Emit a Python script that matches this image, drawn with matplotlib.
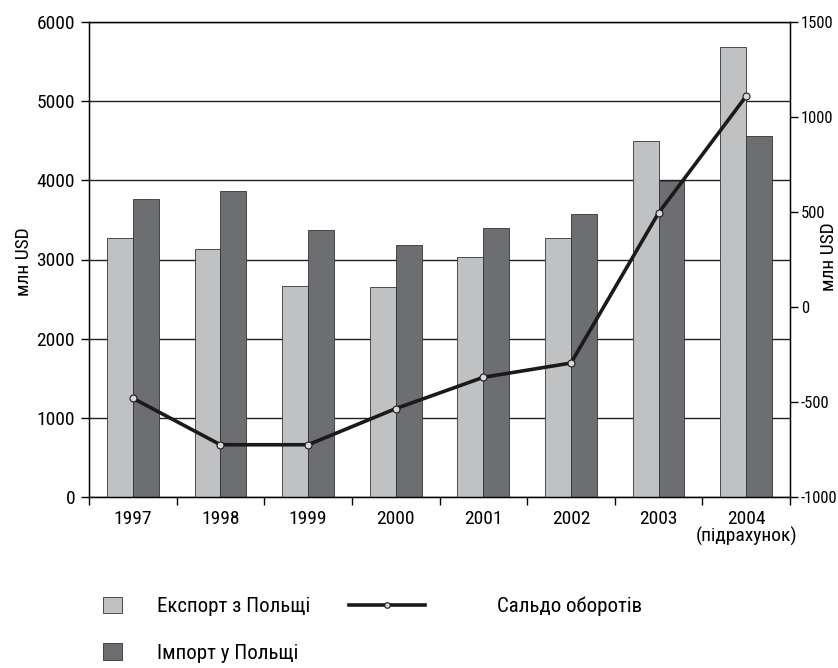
import matplotlib
matplotlib.use("Agg")
import matplotlib.pyplot as plt
import numpy as np
from matplotlib.patches import Patch
from matplotlib.lines import Line2D

plt.rcParams['font.family'] = ['Roboto Condensed', 'PT Sans Narrow', 'Liberation Sans Narrow',
                               'Liberation Sans', 'DejaVu Sans']
plt.rcParams['axes.unicode_minus'] = False

years = ['1997', '1998', '1999', '2000', '2001', '2002', '2003', '2004\n(підрахунок)']
export_pl = [3275, 3136, 2669, 2648, 3027, 3275, 4500, 5680]
import_pl = [3760, 3861, 3377, 3179, 3394, 3575, 3991, 4556]
balance = [-480, -725, -725, -535, -370, -295, 495, 1110]

left_ticks = [0, 1000, 2000, 3000, 4000, 5000, 6000]
right_ticks = [-1000, -500, 0, 500, 1000, 1500]

c_exp = '#c0c1c3'
c_imp = '#6d6e71'
fs = 14
lfs = 15

fig = plt.figure(figsize=(8.38, 6.68), dpi=100)
ax = fig.add_axes([89/838, 1-497/668, (790-89)/838, (497-22)/668])
x = np.arange(len(years))
w = 0.295
ax.bar(x - w/2, export_pl, w, color=c_exp, edgecolor='#333333', linewidth=0.6, zorder=2)
ax.bar(x + w/2, import_pl, w, color=c_imp, edgecolor='#333333', linewidth=0.6, zorder=2)
ax.set_xlim(-0.5, len(years) - 0.5)
ax.set_ylim(0, 6000)
ax.set_yticks(left_ticks)
ax.yaxis.grid(True, color='#222222', linewidth=1.0, zorder=0)
ax.set_axisbelow(True)
ax.set_xticks(np.arange(len(years) + 1) - 0.5, minor=True)
ax.set_xticks(x)
ax.set_xticklabels(years, fontsize=fs, linespacing=0.95)
ax.tick_params(axis='x', which='major', length=0, pad=9)
ax.tick_params(axis='x', which='minor', length=6, width=1, direction='out')
ax.tick_params(axis='y', length=6, width=1, labelsize=fs, pad=4)
ax.set_ylabel('млн USD', fontsize=fs)
ax.yaxis.set_label_coords((33-89)/701, 0.495)
for s in ax.spines.values():
    s.set_linewidth(1.0)

ax2 = ax.twinx()
ax2.plot(x, balance, color='#1a1a1a', linewidth=2.6, marker='o', markersize=5,
         markerfacecolor='#d8d8d8', markeredgecolor='#1a1a1a', markeredgewidth=0.8, zorder=5)
ax2.set_ylim(-1000, 1500)
ax2.set_yticks(right_ticks)
ax2.tick_params(axis='y', length=6, width=1, labelsize=12, pad=2)
ax2.set_ylabel('млн USD', fontsize=fs, rotation=90)
ax2.yaxis.set_label_coords((820-89)/701, 0.505)

h1 = [Patch(facecolor=c_exp, edgecolor='#333333', linewidth=0.6, label='Експорт з Польщі'),
      Patch(facecolor=c_imp, edgecolor='#333333', linewidth=0.6, label='Імпорт у Польщі')]
leg1 = fig.legend(handles=h1, loc='upper left', bbox_to_anchor=(103/838, 1-597/668),
                  frameon=False, fontsize=lfs, handlelength=0.91, handleheight=0.82,
                  handletextpad=1.68, labelspacing=1.3, borderpad=0, borderaxespad=0)
h2 = [Line2D([], [], color='#1a1a1a', linewidth=2.6, marker='o', markersize=4,
             markerfacecolor='#d8d8d8', markeredgecolor='#1a1a1a', markeredgewidth=0.8,
             label='Сальдо оборотів')]
leg2 = fig.legend(handles=h2, loc='upper left', bbox_to_anchor=(349/838, 1-597/668),
                  frameon=False, fontsize=lfs, handlelength=3.65, handletextpad=3.46,
                  borderpad=0, borderaxespad=0)
fig.savefig('out.png', dpi=100)
